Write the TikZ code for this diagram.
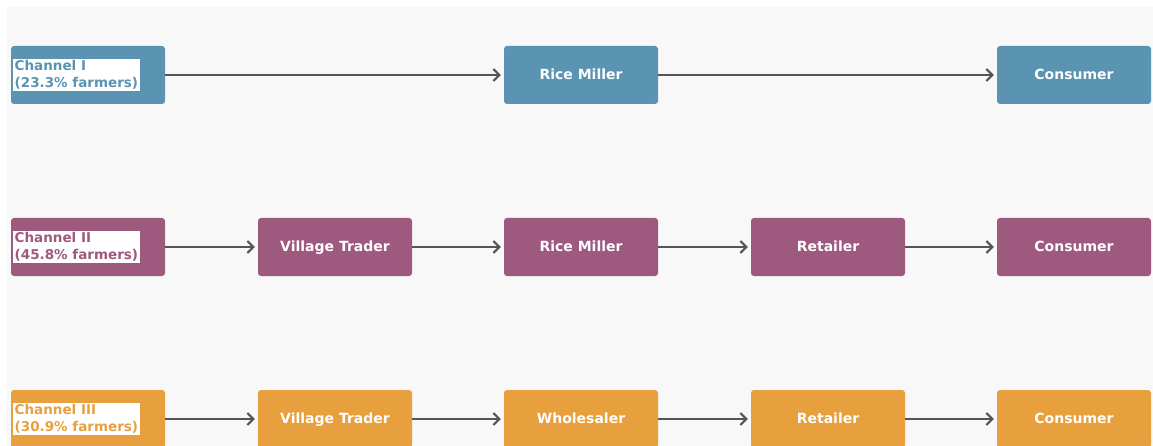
\documentclass[tikz,border=0pt]{standalone}
\usepackage{fontspec}
\setmainfont{DejaVu Sans}
\usetikzlibrary{arrows.meta}
\definecolor{cblue}{HTML}{5B93B2}
\definecolor{cpurple}{HTML}{9E597F}
\definecolor{corange}{HTML}{E8A03F}
\definecolor{panel}{HTML}{F8F8F8}
\definecolor{arr}{HTML}{555555}
\tikzset{
  stagebox/.style={rounded corners=3pt, minimum width=154pt, minimum height=58pt, inner sep=0pt, text=white, text height=2ex, text depth=0.3ex, font=\bfseries\fontsize{14}{16}\selectfont},
  chanlabel/.style={fill=white, align=left, anchor=west, inner sep=1.5pt, font=\bfseries\fontsize{13.5}{16.5}\selectfont},
  flow/.style={draw=arr, line width=2pt, -{Straight Barb[length=6pt,width=12pt,line width=2pt]}, shorten >=3pt}
}
\begin{document}
\begin{tikzpicture}[x=1pt,y=-1pt]
\useasboundingbox (0,0) rectangle (1153,446);
\fill[panel] (7,7) rectangle (1153,446);
% Row 1
\node[stagebox, fill=cblue] (c1) at (88,75) {};
\node[chanlabel, text=cblue] (l1) at (13,75) {Channel I\\(23.3\% farmers)};
\node[stagebox, fill=cblue] (m1) at (581,75) {Rice Miller};
\node[stagebox, fill=cblue] (k1) at (1074,75) {Consumer};
\draw[flow] (c1) -- (m1);
\draw[flow] (m1) -- (k1);
% Row 2
\node[stagebox, fill=cpurple] (c2) at (88,247) {};
\node[chanlabel, text=cpurple] (l2) at (13,247) {Channel II\\(45.8\% farmers)};
\node[stagebox, fill=cpurple] (v2) at (335,247) {Village Trader};
\node[stagebox, fill=cpurple] (m2) at (581,247) {Rice Miller};
\node[stagebox, fill=cpurple] (r2) at (828,247) {Retailer};
\node[stagebox, fill=cpurple] (k2) at (1074,247) {Consumer};
\draw[flow] (c2) -- (v2);
\draw[flow] (v2) -- (m2);
\draw[flow] (m2) -- (r2);
\draw[flow] (r2) -- (k2);
% Row 3
\node[stagebox, fill=corange] (c3) at (88,419) {};
\node[chanlabel, text=corange] (l3) at (13,419) {Channel III\\(30.9\% farmers)};
\node[stagebox, fill=corange] (v3) at (335,419) {Village Trader};
\node[stagebox, fill=corange] (w3) at (581,419) {Wholesaler};
\node[stagebox, fill=corange] (r3) at (828,419) {Retailer};
\node[stagebox, fill=corange] (k3) at (1074,419) {Consumer};
\draw[flow] (c3) -- (v3);
\draw[flow] (v3) -- (w3);
\draw[flow] (w3) -- (r3);
\draw[flow] (r3) -- (k3);
\end{tikzpicture}
\end{document}
